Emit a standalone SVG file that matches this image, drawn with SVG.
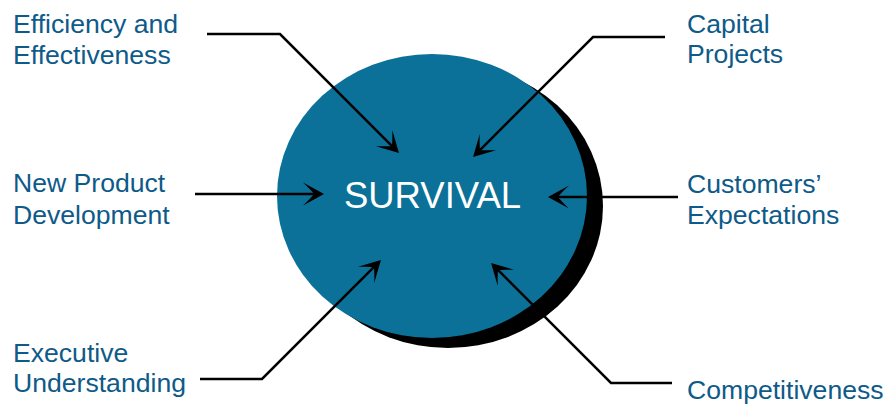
<svg xmlns="http://www.w3.org/2000/svg" width="889" height="404" viewBox="0 0 889 404">
<defs>
<style>
.lbl{font-family:"Liberation Sans",Arial,sans-serif;font-size:26.6px;fill:#0E5A88}
.con{fill:none;stroke:#000;stroke-width:2.5;marker-end:url(#ah)}
</style>
<marker id="ah" viewBox="-23 -12 25 24" markerWidth="25" markerHeight="24" refX="-8" refY="0" markerUnits="userSpaceOnUse" orient="auto">
<path d="M0,0 L-21,-11.5 Q-12,-3 -10,0 Q-12,3 -21,11.5 Z" fill="#000"/>
</marker>
</defs>
<rect width="889" height="404" fill="#fff"/>
<g id="survival">
<ellipse cx="448" cy="206" rx="155" ry="142" fill="#000"/>
<ellipse cx="432" cy="196" rx="155" ry="142" fill="#0B7198"/>
<text x="432.5" y="208" text-anchor="middle" font-family="Liberation Sans,Arial,sans-serif" font-size="36.5" fill="#fff">SURVIVAL</text>
</g>
<g id="efficiency"><text class="lbl" x="13" y="33">Efficiency and</text><text class="lbl" x="13" y="64">Effectiveness</text></g>
<g id="capital"><text class="lbl" x="687" y="33">Capital</text><text class="lbl" x="687" y="63">Projects</text></g>
<g id="newproduct"><text class="lbl" x="13" y="192">New Product</text><text class="lbl" x="13" y="224">Development</text></g>
<g id="customers"><text class="lbl" x="687" y="193">Customers’</text><text class="lbl" x="687" y="224">Expectations</text></g>
<g id="executive"><text class="lbl" x="13" y="362">Executive</text><text class="lbl" x="13" y="392">Understanding</text></g>
<g id="competitiveness"><text class="lbl" x="687" y="399">Competitiveness</text></g>
<g id="connectors">
<path class="con" d="M207,34 H280 L393.3,147.3"/>
<path class="con" d="M665,37 H593 L478.7,151.3"/>
<path class="con" d="M195,194 H316"/>
<path class="con" d="M678,197 H556"/>
<path class="con" d="M200,379 H262 L375.3,265.7"/>
<path class="con" d="M672,383 H611 L496.7,268.7"/>
</g>
</svg>
